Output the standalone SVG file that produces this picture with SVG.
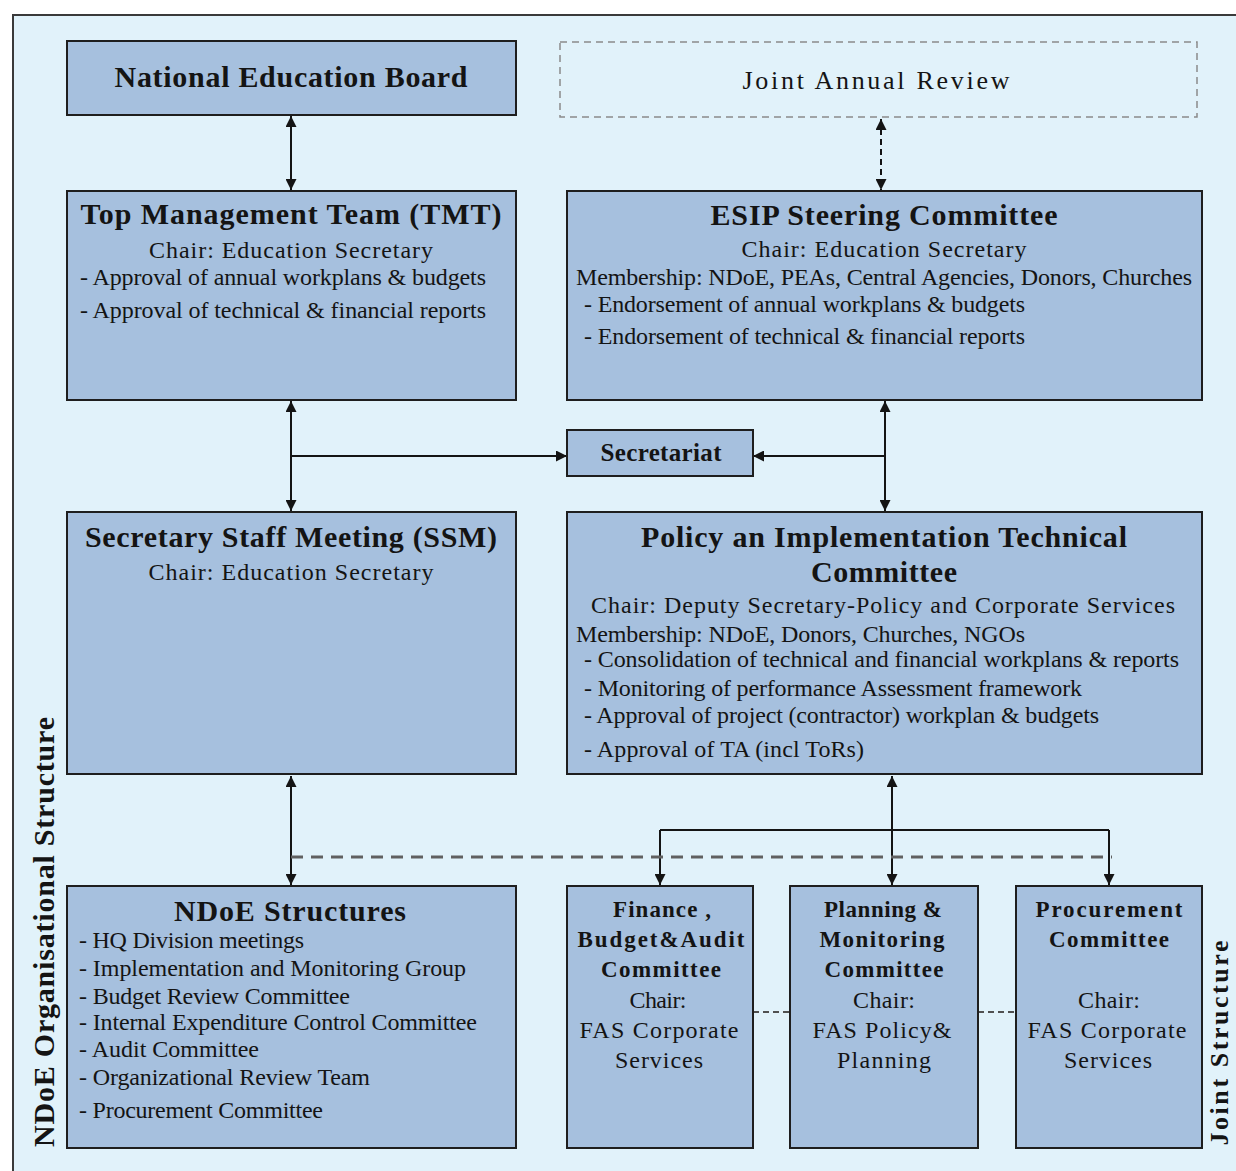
<svg xmlns="http://www.w3.org/2000/svg" width="1236" height="1171" viewBox="0 0 1236 1171">
<style>
text{font-family:"Liberation Serif","Times New Roman",serif;fill:#141414}
.t{font-size:30px;font-weight:bold;text-anchor:middle}
.s{font-size:23px;font-weight:bold;text-anchor:middle}
.r{font-size:24px}
.c{font-size:24px;text-anchor:middle}
.box{fill:#a6c0de;stroke:#1e1e1e;stroke-width:2}
.ln{stroke:#141414;stroke-width:2;fill:none}
</style>
<defs>
<marker id="ah" viewBox="0 0 10 10" refX="10" refY="5" markerWidth="11" markerHeight="11" markerUnits="userSpaceOnUse" orient="auto-start-reverse"><path d="M0,0 L10,5 L0,10 z" fill="#141414"/></marker>
</defs>
<rect x="0" y="0" width="1236" height="1171" fill="#ffffff"/>
<rect x="13" y="15" width="1240" height="1170" fill="#e1f2fa" stroke="#3a3a3a" stroke-width="2"/>

<g id="connectors">
<line class="ln" x1="291" y1="116" x2="291" y2="190" marker-start="url(#ah)" marker-end="url(#ah)"/>
<line class="ln" x1="881" y1="119" x2="881" y2="190" stroke-dasharray="6 4" marker-start="url(#ah)" marker-end="url(#ah)"/>
<line class="ln" x1="291" y1="401" x2="291" y2="511" marker-start="url(#ah)" marker-end="url(#ah)"/>
<line class="ln" x1="291" y1="456" x2="567" y2="456" marker-end="url(#ah)"/>
<line class="ln" x1="885" y1="401" x2="885" y2="511" marker-start="url(#ah)" marker-end="url(#ah)"/>
<line class="ln" x1="885" y1="456" x2="753" y2="456" marker-end="url(#ah)"/>
<line class="ln" x1="291" y1="776" x2="291" y2="885" marker-start="url(#ah)" marker-end="url(#ah)"/>
<line class="ln" x1="892" y1="776" x2="892" y2="885" marker-start="url(#ah)" marker-end="url(#ah)"/>
<path class="ln" d="M660 830 H1109"/>
<line class="ln" x1="660" y1="830" x2="660" y2="885" marker-end="url(#ah)"/>
<line class="ln" x1="1109" y1="830" x2="1109" y2="885" marker-end="url(#ah)"/>
<path d="M291 857 H1112" stroke="#606060" stroke-width="3" stroke-dasharray="12 8" fill="none"/>
<path d="M753 1012 H790 M978 1012 H1016" stroke="#505050" stroke-width="2" stroke-dasharray="6 4" fill="none"/>
</g>

<g id="neb">
<rect class="box" x="67" y="41" width="449" height="74"/>
<text class="t" x="291" y="87" textLength="353">National Education Board</text>
</g>

<g id="jar">
<rect x="560" y="42" width="637" height="75" fill="#e1f2fa" stroke="#8a8a8a" stroke-width="1.5" stroke-dasharray="7 5"/>
<text class="c" x="876" y="89" textLength="267" style="font-size:26px">Joint Annual Review</text>
</g>

<g id="tmt">
<rect class="box" x="67" y="191" width="449" height="209"/>
<text class="t" x="291" y="224" textLength="421">Top Management Team (TMT)</text>
<text class="c" x="291" y="258" textLength="284">Chair:  Education Secretary</text>
<text class="r" x="80" y="285" textLength="406">- Approval of annual workplans &amp; budgets</text>
<text class="r" x="80" y="318" textLength="406">- Approval of technical &amp; financial reports</text>
</g>

<g id="esip">
<rect class="box" x="567" y="191" width="635" height="209"/>
<text class="t" x="884" y="225" textLength="347">ESIP Steering Committee</text>
<text class="c" x="884" y="257" textLength="285">Chair:  Education Secretary</text>
<text class="r" x="576" y="285" textLength="616">Membership: NDoE, PEAs, Central Agencies, Donors, Churches</text>
<text class="r" x="584" y="312" textLength="441">- Endorsement of annual workplans &amp; budgets</text>
<text class="r" x="584" y="344" textLength="441">- Endorsement of technical &amp; financial reports</text>
</g>

<g id="secretariat">
<rect class="box" x="567" y="430" width="186" height="46"/>
<text x="661" y="461" text-anchor="middle" font-weight="bold" style="font-size:25px" textLength="121">Secretariat</text>
</g>

<g id="ssm">
<rect class="box" x="67" y="512" width="449" height="262"/>
<text class="t" x="291" y="547" textLength="412">Secretary Staff Meeting (SSM)</text>
<text class="c" x="291" y="580" textLength="285">Chair:  Education Secretary</text>
</g>

<g id="pitc">
<rect class="box" x="567" y="512" width="635" height="262"/>
<text class="t" x="884" y="547" textLength="486">Policy an Implementation Technical</text>
<text class="t" x="884" y="582" textLength="146">Committee</text>
<text class="c" x="883" y="613" textLength="584">Chair: Deputy Secretary-Policy and Corporate Services</text>
<text class="r" x="576" y="642" textLength="449">Membership: NDoE, Donors, Churches, NGOs</text>
<text class="r" x="584" y="667" textLength="595">- Consolidation of technical and financial workplans &amp; reports</text>
<text class="r" x="584" y="696" textLength="498">- Monitoring of performance Assessment framework</text>
<text class="r" x="584" y="723" textLength="515">- Approval of project (contractor) workplan &amp; budgets</text>
<text class="r" x="584" y="757" textLength="280">- Approval of TA (incl ToRs)</text>
</g>

<g id="ndoe">
<rect class="box" x="67" y="886" width="449" height="262"/>
<text class="t" x="290" y="921" textLength="232">NDoE Structures</text>
<text class="r" x="79" y="948" textLength="225">- HQ Division meetings</text>
<text class="r" x="79" y="976" textLength="387">- Implementation and Monitoring Group</text>
<text class="r" x="79" y="1004" textLength="271">- Budget Review Committee</text>
<text class="r" x="79" y="1030" textLength="398">- Internal Expenditure Control Committee</text>
<text class="r" x="79" y="1057" textLength="180">- Audit Committee</text>
<text class="r" x="79" y="1085" textLength="291">- Organizational Review Team</text>
<text class="r" x="79" y="1118" textLength="244">- Procurement Committee</text>
</g>

<g id="fba">
<rect class="box" x="567" y="886" width="186" height="262"/>
<text class="s" x="662" y="917" textLength="98">Finance ,</text>
<text class="s" x="661" y="947" textLength="167">Budget&amp;Audit</text>
<text class="s" x="661" y="977" textLength="120">Committee</text>
<text class="c" x="658" y="1008" textLength="57">Chair:</text>
<text class="c" x="659" y="1038" textLength="159">FAS Corporate</text>
<text class="c" x="659" y="1068" textLength="88">Services</text>
</g>

<g id="pmc">
<rect class="box" x="790" y="886" width="188" height="262"/>
<text class="s" x="883" y="917" textLength="118">Planning &amp;</text>
<text class="s" x="882" y="947" textLength="125">Monitoring</text>
<text class="s" x="884" y="977" textLength="119">Committee</text>
<text class="c" x="884" y="1008" textLength="62">Chair:</text>
<text class="c" x="882" y="1038" textLength="139">FAS Policy&amp;</text>
<text class="c" x="884" y="1068" textLength="94">Planning</text>
</g>

<g id="proc">
<rect class="box" x="1016" y="886" width="186" height="262"/>
<text class="s" x="1109" y="917" textLength="147">Procurement</text>
<text class="s" x="1109" y="947" textLength="120">Committee</text>
<text class="c" x="1109" y="1008" textLength="62">Chair:</text>
<text class="c" x="1107" y="1038" textLength="159">FAS Corporate</text>
<text class="c" x="1108" y="1068" textLength="88">Services</text>
</g>

<g id="labels">
<text transform="translate(54,932) rotate(-90)" text-anchor="middle" font-weight="bold" style="font-size:30px" textLength="430">NDoE Organisational Structure</text>
<text transform="translate(1228,1043) rotate(-90)" text-anchor="middle" font-weight="bold" style="font-size:26px" textLength="205">Joint Structure</text>
</g>
</svg>
